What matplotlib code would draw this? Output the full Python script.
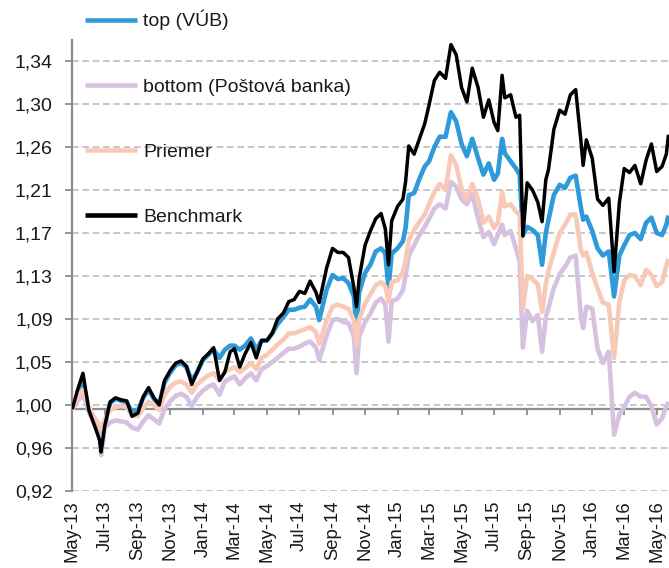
import matplotlib
matplotlib.use("Agg")
import matplotlib.pyplot as plt
import matplotlib.dates as mdates
from matplotlib.ticker import NullFormatter
import pandas as pd

# ---------------- data ----------------
dates = [
    "2013-05-01", "2013-05-11", "2013-05-21", "2013-06-01", "2013-06-11", "2013-06-21", "2013-06-24",
    "2013-07-01", "2013-07-11", "2013-07-21", "2013-08-01", "2013-08-11", "2013-08-21",
    "2013-09-01", "2013-09-11", "2013-09-21", "2013-10-01", "2013-10-11", "2013-10-21",
    "2013-11-01", "2013-11-11", "2013-11-21", "2013-12-01", "2013-12-11", "2013-12-21",
    "2014-01-01", "2014-01-11", "2014-01-21", "2014-02-01", "2014-02-11", "2014-02-21",
    "2014-03-01", "2014-03-11", "2014-03-21", "2014-04-01", "2014-04-11", "2014-04-21",
    "2014-05-01", "2014-05-11", "2014-05-21", "2014-06-01", "2014-06-11", "2014-06-21",
    "2014-07-01", "2014-07-11", "2014-07-21", "2014-08-01", "2014-08-07", "2014-08-21",
    "2014-09-01", "2014-09-11", "2014-09-21", "2014-10-01", "2014-10-11", "2014-10-16", "2014-10-21",
    "2014-11-01", "2014-11-11", "2014-11-21", "2014-12-01", "2014-12-09", "2014-12-15", "2014-12-21",
    "2015-01-01", "2015-01-11", "2015-01-16", "2015-01-22", "2015-02-01", "2015-02-11", "2015-02-21",
    "2015-03-01", "2015-03-11", "2015-03-21", "2015-04-01", "2015-04-11", "2015-04-21",
    "2015-05-01", "2015-05-11", "2015-05-21", "2015-06-01", "2015-06-11", "2015-06-21",
    "2015-07-01", "2015-07-08", "2015-07-16", "2015-07-21", "2015-08-01", "2015-08-11", "2015-08-18",
    "2015-08-24", "2015-09-01", "2015-09-11", "2015-09-21", "2015-09-29", "2015-10-06", "2015-10-11",
    "2015-10-21", "2015-11-01", "2015-11-11", "2015-11-21", "2015-12-01", "2015-12-11", "2015-12-15",
    "2015-12-21", "2016-01-01", "2016-01-11", "2016-01-21", "2016-02-01", "2016-02-11", "2016-02-21",
    "2016-03-01", "2016-03-11", "2016-03-21", "2016-04-01", "2016-04-11", "2016-04-21",
    "2016-05-01", "2016-05-11", "2016-05-19", "2016-05-23",
]

top_vub = [
    1.000, 1.013, 1.027, 0.998, 0.987, 0.975, 0.962,
    0.985, 1.006, 1.010, 1.008, 1.007, 0.997,
    0.999, 1.011, 1.019, 1.010, 1.005, 1.026,
    1.036, 1.043, 1.045, 1.041, 1.028, 1.036,
    1.048, 1.053, 1.058, 1.050, 1.058, 1.062,
    1.062, 1.058, 1.062, 1.069, 1.058, 1.067,
    1.067, 1.074, 1.083, 1.090, 1.097, 1.097,
    1.099, 1.100, 1.107, 1.100, 1.087, 1.117,
    1.131, 1.127, 1.128, 1.123, 1.110, 1.080, 1.114,
    1.133, 1.141, 1.154, 1.157, 1.152, 1.118, 1.152,
    1.157, 1.164, 1.177, 1.209, 1.211, 1.225, 1.237,
    1.242, 1.256, 1.266, 1.266, 1.290, 1.281,
    1.259, 1.247, 1.264, 1.245, 1.229, 1.240,
    1.224, 1.230, 1.264, 1.250, 1.242, 1.235, 1.229,
    1.170, 1.178, 1.175, 1.170, 1.141, 1.172, 1.185,
    1.209, 1.219, 1.216, 1.226, 1.228, 1.196, 1.185,
    1.188, 1.174, 1.157, 1.150, 1.154, 1.110, 1.150,
    1.160, 1.170, 1.172, 1.166, 1.182, 1.187,
    1.172, 1.170, 1.180, 1.189,
]

bottom_pb = [
    1.000, 1.008, 1.014, 0.998, 0.985, 0.975, 0.955,
    0.982, 0.987, 0.989, 0.988, 0.987, 0.982,
    0.980, 0.988, 0.994, 0.990, 0.986, 1.000,
    1.008, 1.013, 1.015, 1.012, 1.003, 1.012,
    1.018, 1.022, 1.024, 1.014, 1.027, 1.030,
    1.032, 1.024, 1.030, 1.035, 1.028, 1.039,
    1.042, 1.046, 1.050, 1.055, 1.059, 1.059,
    1.061, 1.064, 1.066, 1.060, 1.048, 1.072,
    1.087, 1.088, 1.085, 1.084, 1.071, 1.035, 1.071,
    1.085, 1.093, 1.104, 1.108, 1.102, 1.066, 1.105,
    1.108, 1.116, 1.130, 1.150, 1.160, 1.170, 1.178,
    1.186, 1.196, 1.200, 1.196, 1.222, 1.217,
    1.205, 1.200, 1.210, 1.186, 1.168, 1.173,
    1.161, 1.170, 1.180, 1.170, 1.174, 1.157, 1.144,
    1.060, 1.096, 1.086, 1.092, 1.056, 1.090, 1.099,
    1.118, 1.132, 1.139, 1.148, 1.150, 1.090, 1.079,
    1.100, 1.098, 1.059, 1.045, 1.056, 0.975, 0.995,
    1.002, 1.012, 1.016, 1.012, 1.012, 1.003,
    0.985, 0.991, 1.003, 1.007,
]

priemer = [
    1.000, 1.012, 1.019, 1.002, 0.992, 0.985, 0.980,
    0.990, 0.999, 1.002, 1.003, 1.002, 0.994,
    0.993, 1.001, 1.007, 1.004, 0.999, 1.014,
    1.022, 1.026, 1.027, 1.024, 1.016, 1.024,
    1.029, 1.033, 1.035, 1.028, 1.037, 1.039,
    1.041, 1.036, 1.040, 1.045, 1.039, 1.050,
    1.053, 1.058, 1.063, 1.068, 1.074, 1.074,
    1.076, 1.078, 1.080, 1.075, 1.064, 1.087,
    1.100, 1.102, 1.100, 1.098, 1.087, 1.061, 1.088,
    1.103, 1.112, 1.121, 1.124, 1.120, 1.105, 1.124,
    1.126, 1.134, 1.145, 1.165, 1.175, 1.183, 1.190,
    1.200, 1.212, 1.220, 1.214, 1.248, 1.238,
    1.215, 1.205, 1.220, 1.205, 1.182, 1.188,
    1.177, 1.182, 1.212, 1.198, 1.200, 1.193, 1.190,
    1.098, 1.130, 1.127, 1.122, 1.095, 1.122, 1.135,
    1.153, 1.172, 1.180, 1.190, 1.190, 1.155, 1.150,
    1.153, 1.133, 1.118, 1.104, 1.102, 1.050, 1.105,
    1.126, 1.131, 1.130, 1.121, 1.136, 1.131,
    1.120, 1.124, 1.140, 1.147,
]

benchmark = [
    1.000, 1.019, 1.035, 0.999, 0.985, 0.970, 0.958,
    0.984, 1.007, 1.011, 1.009, 1.008, 0.993,
    0.996, 1.012, 1.021, 1.011, 1.004, 1.028,
    1.038, 1.045, 1.047, 1.042, 1.024, 1.036,
    1.049, 1.054, 1.060, 1.028, 1.036, 1.056,
    1.059, 1.041, 1.054, 1.065, 1.050, 1.067,
    1.067, 1.074, 1.088, 1.094, 1.105, 1.107,
    1.115, 1.113, 1.125, 1.114, 1.104, 1.138,
    1.157, 1.153, 1.153, 1.148, 1.119, 1.100, 1.128,
    1.160, 1.174, 1.186, 1.191, 1.176, 1.141, 1.184,
    1.198, 1.205, 1.222, 1.257, 1.249, 1.264, 1.279,
    1.297, 1.321, 1.329, 1.323, 1.356, 1.346,
    1.314, 1.300, 1.333, 1.314, 1.285, 1.302,
    1.280, 1.272, 1.326, 1.304, 1.307, 1.285, 1.287,
    1.169, 1.221, 1.214, 1.202, 1.183, 1.224, 1.234,
    1.273, 1.292, 1.288, 1.307, 1.312, 1.261, 1.238,
    1.263, 1.245, 1.205, 1.199, 1.206, 1.134, 1.202,
    1.235, 1.231, 1.238, 1.220, 1.243, 1.259,
    1.232, 1.237, 1.249, 1.268,
]

series_names = ["top (VÚB)", "bottom (Poštová banka)", "Priemer", "Benchmark"]

ytick_values = [0.92, 0.962, 1.004, 1.046, 1.088, 1.130, 1.172, 1.214, 1.256, 1.298, 1.340]
ytick_labels = ["0,92", "0,96", "1,00", "1,05", "1,09", "1,13", "1,17", "1,21", "1,26", "1,30", "1,34"]

xtick_dates = ["2013-05-01", "2013-07-01", "2013-09-01", "2013-11-01", "2014-01-01", "2014-03-01",
               "2014-05-01", "2014-07-01", "2014-09-01", "2014-11-01", "2015-01-01", "2015-03-01",
               "2015-05-01", "2015-07-01", "2015-09-01", "2015-11-01", "2016-01-01", "2016-03-01",
               "2016-05-01"]
xtick_labels = ["May-13", "Jul-13", "Sep-13", "Nov-13", "Jan-14", "Mar-14", "May-14", "Jul-14",
                "Sep-14", "Nov-14", "Jan-15", "Mar-15", "May-15", "Jul-15", "Sep-15", "Nov-15",
                "Jan-16", "Mar-16", "May-16"]

# ---------------- styling ----------------
plt.rcParams["font.family"] = ["Liberation Sans", "DejaVu Sans"]
FS = 14
FSX = 13.3
TXT = "#1a1a1a"
AXC = "#8c8c8c"
GRID = "#bdbdbd"

colors = ["#2e9ad9", "#d6c1e1", "#f8c9b7", "#000000"]
widths = [3.3, 3.3, 3.3, 2.5]

W, H = 669, 568
fig = plt.figure(figsize=(W / 100, H / 100), dpi=100)
ax = fig.add_axes([72.3 / W, 77 / H, (W - 72.3) / W, 451 / H])

x = pd.to_datetime(dates)
all_series = [top_vub, bottom_pb, priemer, benchmark]
lines = []
for vals, c, lw, name in zip(all_series, colors, widths, series_names):
    (ln,) = ax.plot(x, vals, color=c, lw=lw, label=name, solid_joinstyle="round",
                    solid_capstyle="butt", zorder=3)
    lines.append(ln)

ymin, ymax = 0.92, 1.3605
ax.set_ylim(ymin, ymax)
ax.set_xlim(pd.Timestamp("2013-05-01"), pd.Timestamp("2016-05-24"))

# y axis
ax.set_yticks(ytick_values)
ax.set_yticklabels(ytick_labels)
ax.tick_params(axis="y", direction="out", length=5, width=1.3, color=AXC,
               labelsize=FS, labelcolor=TXT, pad=9)
ax.yaxis.grid(True, linestyle=(0, (4, 2.2)), color=GRID, lw=1.2)
ax.set_axisbelow(True)

for s in ["top", "right", "bottom"]:
    ax.spines[s].set_visible(False)
ax.spines["left"].set_color(AXC)
ax.spines["left"].set_linewidth(1.6)

# x labels at the bottom of the plot
xt = pd.to_datetime(xtick_dates)
ax.set_xticks(xt)
ax.set_xticklabels(xtick_labels, rotation=90)
ax.tick_params(axis="x", length=0, labelsize=FSX, labelcolor=TXT, pad=7)

# x axis line crossing at 1.00
loc = (1.0 - ymin) / (ymax - ymin)
sec = ax.secondary_xaxis(loc)
sec.set_xticks(mdates.date2num(xt))
sec.xaxis.set_major_formatter(NullFormatter())
sec.tick_params(axis="x", direction="out", length=4, width=1.3, color=AXC)
sec.spines["bottom"].set_color(AXC)
sec.spines["bottom"].set_linewidth(1.6)
sec.set_zorder(2)

# legend
fsz_px = FS * 100 / 72
leg = fig.legend(handles=lines, labels=series_names, loc="upper left",
                 bbox_to_anchor=(85 / W, 1 - 10 / H), frameon=False, fontsize=FS,
                 handlelength=52 / fsz_px, handletextpad=6 / fsz_px,
                 labelspacing=2.45, borderpad=0, borderaxespad=0)
for t in leg.get_texts():
    t.set_color(TXT)
for h in leg.legend_handles:
    h.set_linewidth(3.3)

fig.savefig("out.png", dpi=100)
